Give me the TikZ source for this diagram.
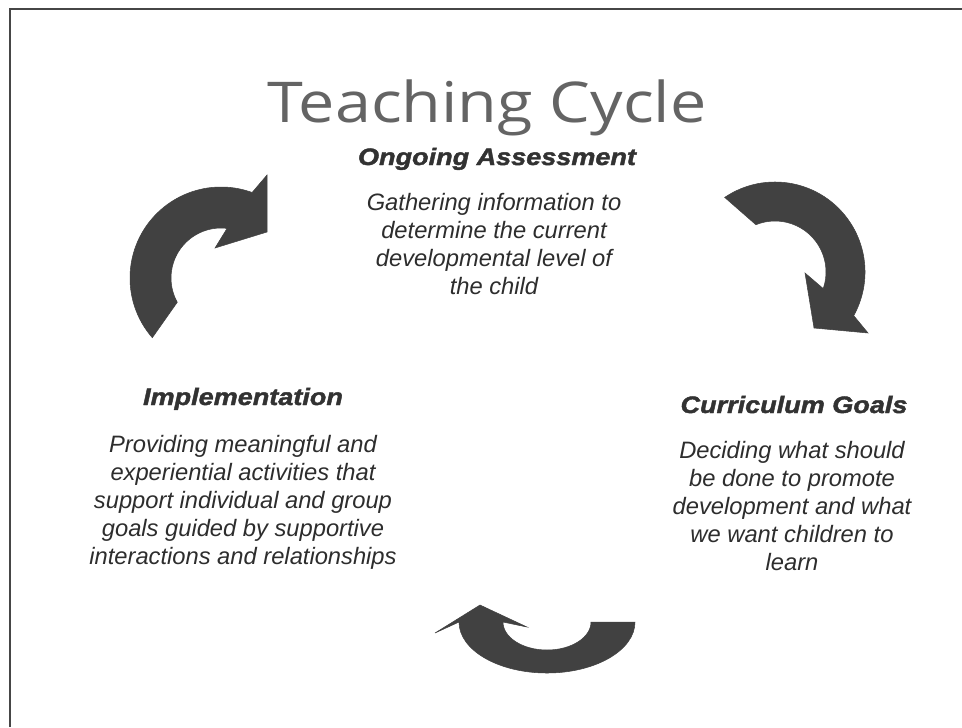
\documentclass[tikz,border=0pt]{standalone}
\usepackage{fontspec}
\setmainfont{Liberation Sans}
\newfontfamily\titlefont{Open Sans}[FakeStretch=1.15]
\newfontfamily\headfont{Liberation Sans}[FakeStretch=1.14,FakeBold=1.8]
\usepackage{xcolor}
\definecolor{ink}{RGB}{45,45,45}
\definecolor{heading}{RGB}{50,50,50}
\definecolor{titlegray}{RGB}{100,100,100}
\definecolor{arrowfill}{RGB}{65,65,65}
\definecolor{frame}{RGB}{70,70,70}
\usepackage{tikz}
\usetikzlibrary{positioning,calc}

\begin{document}
\begin{tikzpicture}[
  x=0.02cm, y=-0.02cm,
  title/.style={font=\titlefont\fontsize{32}{36}\selectfont, text=titlegray, anchor=base, inner sep=0pt},
  stage/.style={font=\headfont\bfseries\itshape\fontsize{13.5}{16}\selectfont, text=heading, anchor=base, inner sep=0pt},
  detail/.style={font=\itshape\fontsize{13.5}{15.9}\selectfont, text=ink, align=center, anchor=north, inner sep=0pt},
  cyclearrow/.style={fill=arrowfill, draw=arrowfill, line width=0.3pt, line join=miter},
  border/.style={draw=frame, line width=1.4pt}
]
\useasboundingbox (0,0) rectangle (962,727);
\draw[border] (10,727) -- (10,9) -- (962,9);

\node[title] (title) at (487,122) {Teaching Cycle};

\node[stage] (assessHead) at (497,165) {Ongoing Assessment};
\node[detail] (assessText) at (494,193) {Gathering information to\\determine the current\\developmental level of\\the child};

\node[stage] (goalsHead) at (794,413) {Curriculum Goals};
\node[detail] (goalsText) at (792,441) {Deciding what should\\be done to promote\\development and what\\we want children to\\learn};

\node[stage] (implHead) at (243,405) {Implementation};
\node[detail] (implText) at (243,435) {Providing meaningful and\\experiential activities that\\support individual and group\\goals guided by supportive\\interactions and relationships};

% curved arrows around the cycle
\coordinate (arcA) at (221,278);
\coordinate (arcB) at (775,272);
\coordinate (arcC) at (547,622);

\fill[cyclearrow] ($(arcA)+(139:91)$) arc[start angle=139, end angle=290, radius=91]
  -- (267,175) -- (267,232) -- (215,248)
  -- ($(arcA)+(277:50)$) arc[start angle=277, end angle=151, radius=50] -- cycle;

\fill[cyclearrow] ($(arcB)+(236:90)$) arc[start angle=236, end angle=389, radius=90]
  -- (868,333) -- (814,328) -- (805,273)
  -- ($(arcB)+(379:51)$) arc[start angle=379, end angle=248, radius=51] -- cycle;

\fill[cyclearrow] ($(arcC)+(88,0)$) arc[start angle=0, end angle=180, x radius=88, y radius=51]
  -- (435,633) -- (480,605) -- (527,627)
  -- ($(arcC)+(-44,0)$) arc[start angle=180, end angle=0, x radius=44, y radius=28] -- cycle;
\end{tikzpicture}
\end{document}
